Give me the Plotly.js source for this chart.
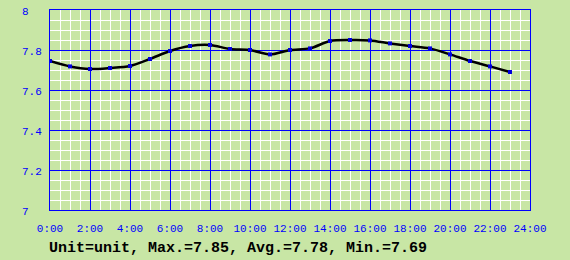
<!DOCTYPE html>
<html>
<head>
<meta charset="utf-8">
<script src="https://cdn.plot.ly/plotly-3.0.1.min.js"></script>
<style>html,body{margin:0;padding:0;background:#c8e6a5;}#chart{width:570px;height:260px;}</style>
</head>
<body>
<div id="chart"></div>
<script>
// Data (hourly readings)
var hours = [0,1,2,3,4,5,6,7,8,9,10,11,12,13,14,15,16,17,18,19,20,21,22,23];
var values = [7.745,7.718,7.705,7.710,7.720,7.755,7.795,7.820,7.825,7.805,7.800,7.778,
              7.800,7.808,7.845,7.850,7.848,7.833,7.820,7.808,7.778,7.745,7.718,7.690];
var xTickVals = [0,2,4,6,8,10,12,14,16,18,20,22,24];
var xTickText = ["0:00","2:00","4:00","6:00","8:00","10:00","12:00","14:00","16:00","18:00","20:00","22:00","24:00"];
var yTickVals = [7,7.2,7.4,7.6,7.8,8];
var yTickText = ["7","7.2","7.4","7.6","7.8","8"];
var titleText = "Unit=unit, Max.=7.85, Avg.=7.78, Min.=7.69";

var green = "#c8e6a5";
var blue = "#0000ff";
var mono = "Liberation Mono, DejaVu Sans Mono, monospace";

var trace = {
  x: hours, y: values, type: "scatter", mode: "lines+markers",
  line: {color: "#000000", width: 2.5, shape: "spline", smoothing: 0.8},
  marker: {symbol: "square", size: 4, color: "#0000dd"},
  hoverinfo: "skip"
};

var annotations = yTickVals.map(function(v, i){
  return {xref: "paper", yref: "y", x: -30/480, y: v, text: yTickText[i], showarrow: false,
          xanchor: "left", yanchor: "middle", yshift: -2,
          font: {family: mono, size: 11, color: blue}};
});

var layout = {
  width: 570, height: 260,
  margin: {l: 50, r: 40, t: 10, b: 50, pad: 0},
  paper_bgcolor: green, plot_bgcolor: green,
  showlegend: false,
  title: {text: titleText, xref: "container", yref: "container", x: 49/570, xanchor: "left",
          y: 1 - 247/260, yanchor: "middle", font: {family: mono, size: 15, color: "#000000", weight: "bold"}},
  xaxis: {range: [0, 24], tickmode: "array", tickvals: xTickVals, ticktext: xTickText,
          showgrid: true, gridcolor: blue, gridwidth: 1, zeroline: false,
          showline: true, linecolor: blue, linewidth: 1, mirror: true, ticks: "",
          tickfont: {family: mono, size: 11, color: blue}, ticklabelstandoff: 8,
          minor: {dtick: 0.5, tick0: 0, showgrid: true, gridcolor: "#ffffff", gridwidth: 1, ticks: ""},
          fixedrange: true},
  yaxis: {range: [7, 8], tickmode: "array", tickvals: yTickVals, showticklabels: false,
          showgrid: true, gridcolor: blue, gridwidth: 1, zeroline: false,
          showline: true, linecolor: blue, linewidth: 1, mirror: true, ticks: "",
          minor: {dtick: 0.05, tick0: 7, showgrid: true, gridcolor: "#ffffff", gridwidth: 1, ticks: ""},
          fixedrange: true},
  annotations: annotations
};

Plotly.newPlot("chart", [trace], layout, {displayModeBar: false, staticPlot: true});
</script>
</body>
</html>
